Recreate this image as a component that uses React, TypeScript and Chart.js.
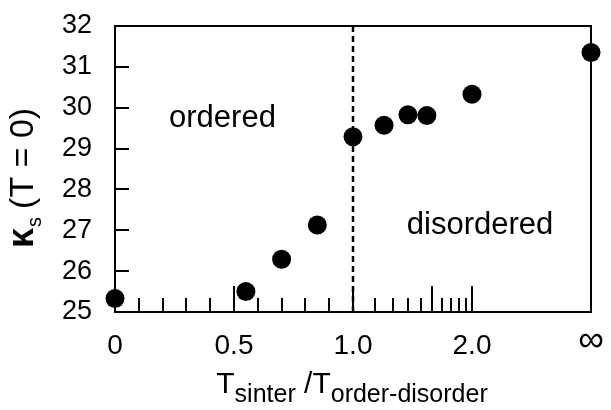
import React, { useEffect, useRef } from 'react';
import { Chart, registerables } from 'chart.js';

Chart.register(...registerables);

// ---- data ----
const sinterRatios = [0, 0.55, 0.7, 0.85, 1.0, 1.15, 1.3, 1.45, 2.0, Infinity];
const kappaValues = [25.33, 25.5, 26.29, 27.13, 29.29, 29.57, 29.83, 29.81, 30.33, 31.35];

const xTickRatios = [0, 0.5, 1.0, 2.0, Infinity];
const xTickLabels = ['0', '0.5', '1.0', '2.0', '∞'];
const xMinorRatios = [0.1, 0.2, 0.3, 0.4, 0.6, 0.7, 0.8, 0.9, 1.1, 1.2, 1.3, 1.4, 1.6, 1.7, 1.8, 1.9];
const xMajorRatios = [0.5, 1.0, 1.5, 2.0];
const yTickValues = [26, 27, 28, 29, 30, 31];
const yMin = 25;
const yMax = 32;
const transitionRatio = 1.0;

// piecewise axis: linear 0..1, then 2 - 1/x for x > 1 (infinity -> 2)
function toAxis(r: number): number {
  if (!isFinite(r)) return 2;
  return r <= 1 ? r : 2 - 1 / r;
}

const FONT = '"Liberation Sans", Arial, Helvetica, sans-serif';

const framePlugin = {
  id: 'framePlugin',
  beforeDatasetsDraw(chart: any) {
    const { ctx, chartArea, scales } = chart;
    const { left, right, top, bottom } = chartArea;
    const xs = scales.x;
    const ys = scales.y;
    ctx.save();
    ctx.strokeStyle = '#000';
    ctx.lineWidth = 2;
    ctx.lineCap = 'butt';
    ctx.strokeRect(left, top, right - left, bottom - top);
    ctx.beginPath();
    xMinorRatios.forEach((r) => {
      const px = Math.round(xs.getPixelForValue(toAxis(r)));
      ctx.moveTo(px, bottom);
      ctx.lineTo(px, bottom - 14);
    });
    xMajorRatios.forEach((r) => {
      const px = Math.round(xs.getPixelForValue(toAxis(r)));
      ctx.moveTo(px, bottom);
      ctx.lineTo(px, bottom - 26);
    });
    yTickValues.forEach((v) => {
      const py = Math.round(ys.getPixelForValue(v));
      ctx.moveTo(left, py);
      ctx.lineTo(left + 14, py);
    });
    ctx.stroke();
    const tx = xs.getPixelForValue(toAxis(transitionRatio));
    ctx.beginPath();
    ctx.setLineDash([6, 4]);
    ctx.lineWidth = 2.5;
    ctx.moveTo(tx, top);
    ctx.lineTo(tx, bottom);
    ctx.stroke();
    ctx.setLineDash([]);
    ctx.restore();
  },
  afterDraw(chart: any) {
    const { ctx, chartArea, scales } = chart;
    const xs = scales.x;
    const ys = scales.y;
    ctx.save();
    ctx.fillStyle = '#000';
    ctx.textBaseline = 'alphabetic';
    ctx.textAlign = 'left';
    ctx.font = `31px ${FONT}`;
    ctx.fillText('ordered', xs.getPixelForValue(0.227), ys.getPixelForValue(29.52));
    ctx.fillText('disordered', xs.getPixelForValue(1.226), ys.getPixelForValue(26.92));

    const big = `30px ${FONT}`;
    const small = `25px ${FONT}`;
    const parts: [string, string, number][] = [
      ['T', big, 0],
      ['sinter', small, 9],
      [' ', big, 0],
      ['/', big, 0],
      ['T', big, 0],
      ['order-disorder', small, 9],
    ];
    let total = 0;
    parts.forEach(([t, f]) => {
      ctx.font = f;
      total += ctx.measureText(t).width;
    });
    let x = (chartArea.left + chartArea.right) / 2 - 1 - total / 2;
    const base = 393;
    parts.forEach(([t, f, dy]) => {
      ctx.font = f;
      ctx.fillText(t, x, base + dy);
      x += ctx.measureText(t).width;
    });

    ctx.translate(33, 248);
    ctx.rotate(-Math.PI / 2);
    let yx = 0;
    ctx.font = `bold 36px ${FONT}`;
    ctx.fillText('κ', yx, 0);
    yx += ctx.measureText('κ').width + 1;
    ctx.font = `20px ${FONT}`;
    ctx.fillText('s', yx, 8);
    yx += ctx.measureText('s').width + 8;
    ctx.font = `34px ${FONT}`;
    ctx.fillText('(T = 0)', yx, 0);
    ctx.restore();
  },
};

export default function App() {
  const canvasRef = useRef<HTMLCanvasElement>(null);

  useEffect(() => {
    const canvas = canvasRef.current;
    if (!canvas) return;
    const points = sinterRatios.map((r, i) => ({ x: toAxis(r), y: kappaValues[i] }));
    const chart = new Chart(canvas, {
      type: 'scatter',
      data: {
        datasets: [
          {
            data: points,
            backgroundColor: '#000',
            borderWidth: 0,
            pointRadius: 9.5,
            pointHoverRadius: 9.5,
            clip: false as any,
          },
        ],
      },
      options: {
        responsive: false,
        animation: false,
        devicePixelRatio: 1,
        layout: { padding: { top: 26, right: 20, left: 0, bottom: 0 } },
        plugins: { legend: { display: false }, tooltip: { enabled: false }, title: { display: false } },
        scales: {
          x: {
            type: 'linear',
            min: 0,
            max: 2,
            grid: { display: false },
            border: { display: false },
            afterBuildTicks: (scale: any) => {
              scale.ticks = xTickRatios.map((r) => ({ value: toAxis(r) }));
            },
            afterFit: (scale: any) => {
              scale.height = 98;
              scale.paddingLeft = 0;
              scale.paddingRight = 0;
            },
            ticks: {
              color: '#000',
              padding: 9,
              maxRotation: 0,
              autoSkip: false,
              font: (c: any) =>
                c.tick && c.tick.value === 2
                  ? { family: FONT, size: 36, lineHeight: 0.66 }
                  : { family: FONT, size: 28 },
              callback: (value: any) => {
                const idx = xTickRatios.findIndex((r) => Math.abs(toAxis(r) - value) < 1e-9);
                return idx >= 0 ? xTickLabels[idx] : '';
              },
            },
          },
          y: {
            type: 'linear',
            min: yMin,
            max: yMax,
            grid: { display: false },
            border: { display: false },
            afterFit: (scale: any) => {
              scale.width = 115;
              scale.paddingTop = 0;
              scale.paddingBottom = 0;
            },
            ticks: {
              color: '#000',
              padding: 15,
              stepSize: 1,
              font: { family: FONT, size: 27 },
            },
          },
        },
      },
      plugins: [framePlugin],
    });
    return () => chart.destroy();
  }, []);

  return (
    <div style={{ position: 'fixed', left: 0, top: 0, width: 611, height: 410, background: '#fff' }}>
      <canvas ref={canvasRef} width={611} height={410} style={{ display: 'block' }} />
    </div>
  );
}
